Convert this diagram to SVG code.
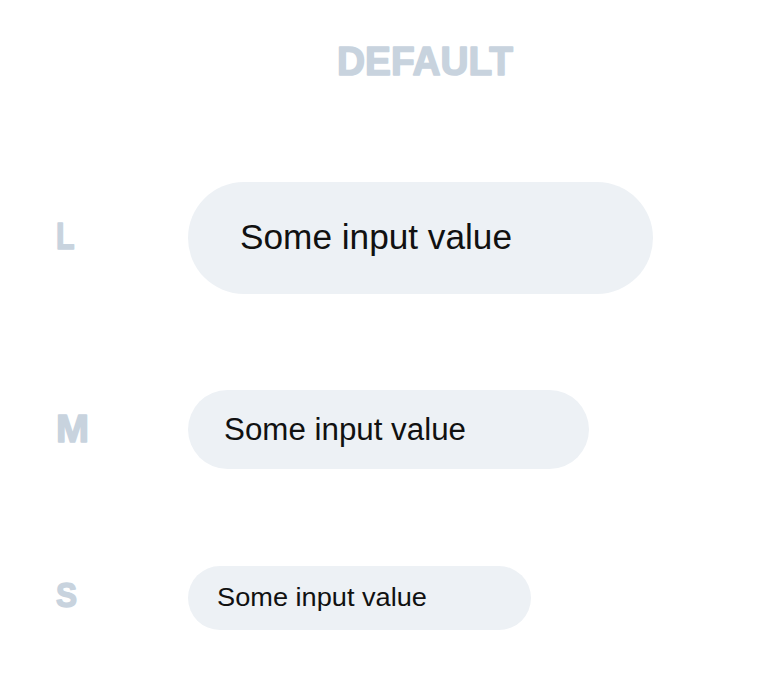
<svg xmlns="http://www.w3.org/2000/svg" width="766" height="684" viewBox="0 0 766 684">
<style>
.bg{fill:#ffffff}
.pill{fill:#edf1f5}
.lbl{fill:#c8d3de;stroke:#c8d3de;stroke-width:1.6;stroke-linejoin:round;font-family:"Liberation Sans",Arial,sans-serif;font-weight:bold}
.val{fill:#111111;font-family:"Liberation Sans",Arial,sans-serif}
</style>
<rect class="bg" x="0" y="0" width="766" height="684"/>
<g id="title">
<text class="lbl" x="337" y="74.5" font-size="40" textLength="176" lengthAdjust="spacingAndGlyphs">DEFAULT</text>
</g>
<g id="size-l">
<text class="lbl" x="56" y="248.5" font-size="36" textLength="18.5" lengthAdjust="spacingAndGlyphs">L</text>
<rect class="pill" x="188" y="182" width="465" height="112" rx="56" ry="56"/>
<text class="val" x="240" y="249" font-size="35" textLength="272" lengthAdjust="spacingAndGlyphs">Some input value</text>
</g>
<g id="size-m">
<text class="lbl" x="56" y="441.5" font-size="38" textLength="33" lengthAdjust="spacingAndGlyphs">M</text>
<rect class="pill" x="188" y="390" width="401" height="79" rx="39.5" ry="39.5"/>
<text class="val" x="224" y="440" font-size="31" textLength="242" lengthAdjust="spacingAndGlyphs">Some input value</text>
</g>
<g id="size-s">
<text class="lbl" x="56" y="606.5" font-size="35" textLength="21" lengthAdjust="spacingAndGlyphs">S</text>
<rect class="pill" x="188" y="566" width="343" height="64" rx="32" ry="32"/>
<text class="val" x="217" y="606" font-size="26.5" textLength="210" lengthAdjust="spacingAndGlyphs">Some input value</text>
</g>
<g id="connectors"/>
</svg>
